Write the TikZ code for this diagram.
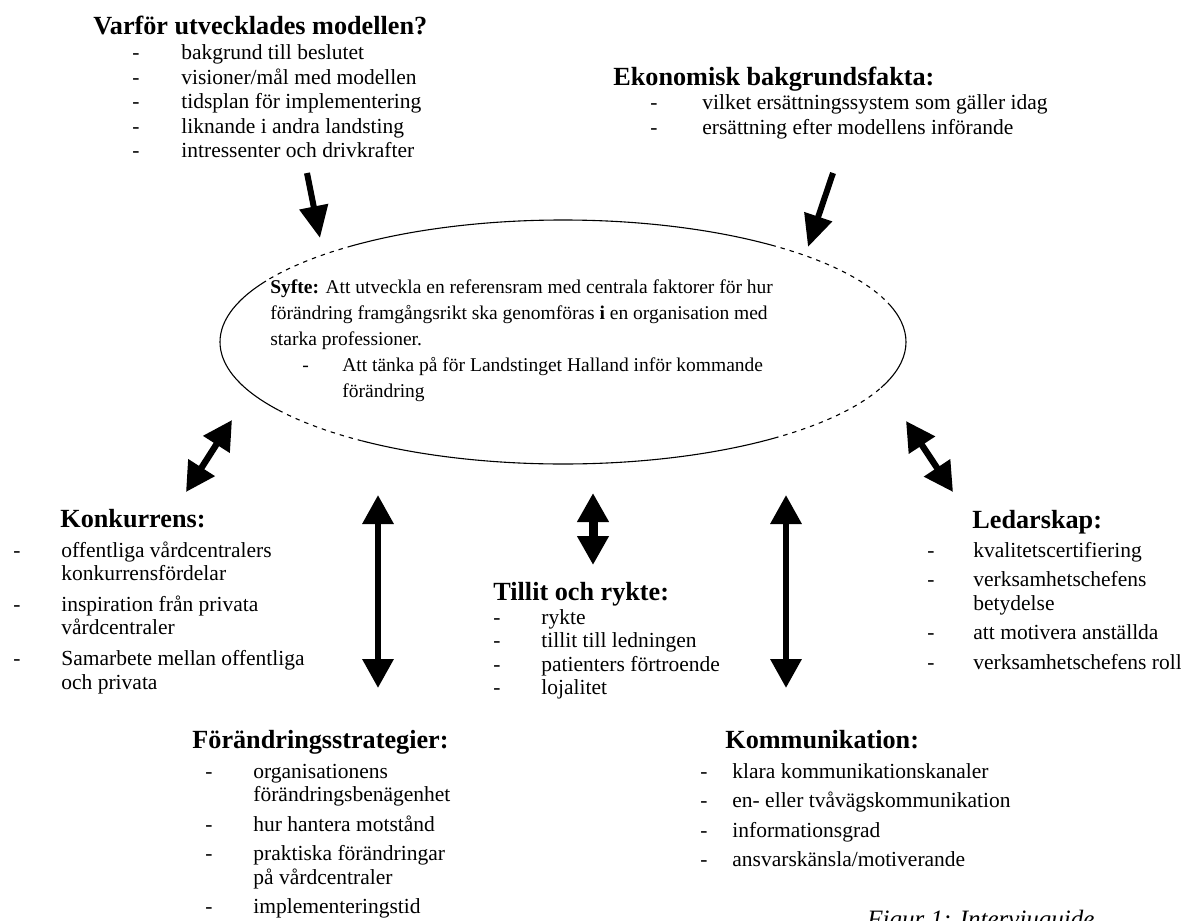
\documentclass[tikz,border=0pt]{standalone}
\usepackage{fontspec}
\setmainfont{Liberation Serif}
\usetikzlibrary{arrows.meta}

\newcommand{\bodytext}{\fontsize{10.75pt}{11.75pt}\selectfont}
\newcommand{\headtext}{\fontsize{13.1pt}{15pt}\selectfont\bfseries}
\newcommand{\aimtext}{\fontsize{9.75pt}{13pt}\selectfont}
\newcommand{\dashlist}[2]{\begin{tabular}[t]{@{}p{#1}@{}l@{}}#2\end{tabular}}

\begin{document}
\begin{tikzpicture}[
  x=0.5pt, y=-0.5pt,
  head/.style   = {font=\headtext, inner sep=0pt, anchor=base west},
  items/.style  = {font=\bodytext, inner sep=0pt, anchor=base west},
  oneway/.style = {line width=3pt, -{Triangle[length=16pt, width=14pt]}},
  twoway/.style = {line width=3.2pt, {Triangle[length=14.5pt, width=15pt]}-{Triangle[length=14.5pt, width=15pt]}},
  rim/.style    = {line width=0.55pt},
  gap/.style    = {rim, dash pattern=on 2.2pt off 2.5pt}
]
\useasboundingbox (0,0) rectangle (1181,920);
\clip (0,0) rectangle (1181,920);

%--------------------------------------------------
% Centre: aim (ellipse + text)
%--------------------------------------------------
\coordinate (mid) at (563,342);
\foreach \a/\b/\kind in {-22/17/rim, 17/52/gap, 52/128/rim, 128/150/gap,
                         150/214/rim, 214/234/gap, 234/308/rim, 308/338/gap}
  \draw[\kind] (mid) ++(\a:171.5pt and 61pt)
    arc[start angle=\a, end angle=\b, x radius=171.5pt, y radius=61pt];

\node[font=\aimtext, inner sep=0pt, anchor=base west] (aim) at (270,293)
  {\begin{tabular}[t]{@{}l@{}}
   \textbf{Syfte:} Att utveckla en referensram med centrala faktorer för hur\\
   förändring framgångsrikt ska genomföras \textbf{i} en organisation med\\
   starka professioner.\\
   \hspace{16pt}-\hspace{16.7pt}Att tänka på för Landstinget Halland inför kommande\\
   \hspace{36pt}förändring
   \end{tabular}};

%--------------------------------------------------
% Topic blocks
%--------------------------------------------------
\node[head] (why) at (93,35) {Varför utvecklades modellen?};
\node[items] (why-list) at (132,60) {\dashlist{24.5pt}{%
  -&bakgrund till beslutet\\[0.5pt]
  -&visioner/mål med modellen\\[0.5pt]
  -&tidsplan för implementering\\[0.5pt]
  -&liknande i andra landsting\\[0.5pt]
  -&intressenter och drivkrafter}};

\node[head] (eco) at (613,85) {Ekonomisk bakgrundsfakta:};
\node[items] (eco-list) at (650,110) {\dashlist{26pt}{%
  -&vilket ersättningssystem som gäller idag\\[0.3pt]
  -&ersättning efter modellens införande}};

\node[head] (comp) at (60,527) {Konkurrens:};
\node[items] (comp-list) at (13,557) {\dashlist{24pt}{%
  -&offentliga vårdcentralers\\
   &konkurrensfördelar\\[3.7pt]
  -&inspiration från privata\\
   &vårdcentraler\\[3.7pt]
  -&Samarbete mellan offentliga\\
   &och privata}};

\node[head] (lead) at (972,528) {Ledarskap:};
\node[items] (lead-list) at (927,557) {\dashlist{23pt}{%
  -&kvalitetscertifiering\\[3pt]
  -&verksamhetschefens\\
   &betydelse\\[3pt]
  -&att motivera anställda\\[3pt]
  -&verksamhetschefens roll}};

\node[head] (trust) at (493,600) {Tillit och rykte:};
\node[items] (trust-list) at (493,624) {\dashlist{24pt}{%
  -&rykte\\
  -&tillit till ledningen\\
  -&patienters förtroende\\
  -&lojalitet}};

\node[head] (strat) at (192,748) {Förändringsstrategier:};
\node[items] (strat-list) at (205,778) {\dashlist{24pt}{%
  -&organisationens\\
   &förändringsbenägenhet\\[3pt]
  -&hur hantera motstånd\\[3pt]
  -&praktiska förändringar\\
   &på vårdcentraler\\[3pt]
  -&implementeringstid}};

\node[head] (comm) at (725,748) {Kommunikation:};
\node[items] (comm-list) at (700,778) {\dashlist{16pt}{%
  -&klara kommunikationskanaler\\[3pt]
  -&en- eller tvåvägskommunikation\\[3pt]
  -&informationsgrad\\[3pt]
  -&ansvarskänsla/motiverande}};

% caption (cut by the page edge)
\node[font=\fontsize{12.5pt}{14pt}\selectfont\itshape, inner sep=0pt, anchor=base west]
  (caption) at (867,927) {Figur 1: Intervjuguide};

%--------------------------------------------------
% Arrow ends
%--------------------------------------------------
\coordinate (why-out)   at (307,173);
\coordinate (why-in)    at (320,238);
\coordinate (eco-out)   at (833,173);
\coordinate (eco-in)    at (808,247);
\coordinate (comp-top)  at (232,420);
\coordinate (comp-bot)  at (186,492);
\coordinate (strat-top) at (378,495);
\coordinate (strat-bot) at (378,688);
\coordinate (trust-top) at (593,493);
\coordinate (trust-bot) at (593,565);
\coordinate (comm-top)  at (786,495);
\coordinate (comm-bot)  at (786,688);
\coordinate (lead-top)  at (906,421);
\coordinate (lead-bot)  at (953,492);

%--------------------------------------------------
% Connections
%--------------------------------------------------
\draw[oneway] (why-out) -- (why-in);
\draw[oneway] (eco-out) -- (eco-in);

\draw[twoway] (comp-top) -- (comp-bot);
\draw[twoway] (strat-top) -- (strat-bot);
\draw[twoway, line width=4.5pt] (trust-top) -- (trust-bot);
\draw[twoway] (comm-top) -- (comm-bot);
\draw[twoway] (lead-top) -- (lead-bot);

\end{tikzpicture}
\end{document}
